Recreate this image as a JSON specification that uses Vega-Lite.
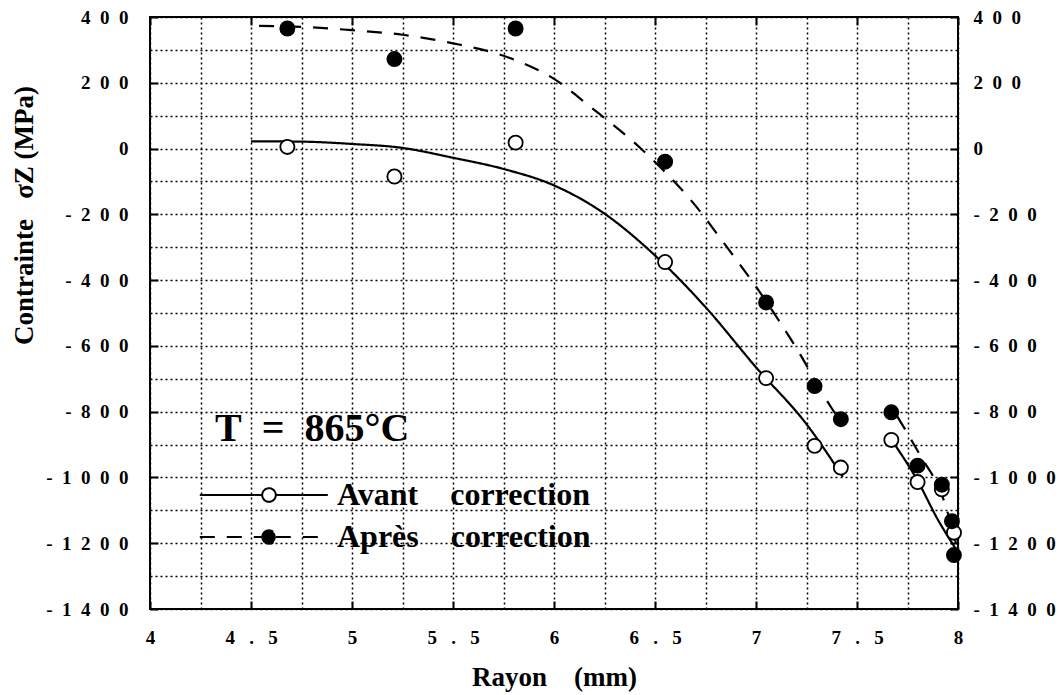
{
  "$schema": "https://vega.github.io/schema/vega-lite/v6.json",
  "width": 808,
  "height": 592,
  "autosize": {"type": "none"},
  "padding": {"left": 150, "top": 17, "right": 103, "bottom": 86},
  "background": "white",
  "config": {
    "view": {"stroke": "black", "strokeWidth": 2},
    "axis": {
      "labelFont": "Liberation Serif",
      "labelFontSize": 19,
      "labelFontWeight": "bold",
      "labelColor": "black",
      "titleFont": "Liberation Serif",
      "titleFontSize": 27,
      "titleFontWeight": "bold",
      "titleColor": "black",
      "domain": false,
      "tickColor": "black",
      "tickWidth": 2,
      "gridColor": "black",
      "gridDash": [2, 3],
      "gridWidth": 1.5,
      "gridOpacity": 1,
      "labelFlush": false,
      "labelOverlap": false,
      "labelBound": false
    },
    "legend": {
      "orient": "none",
      "legendX": 65,
      "legendY": 392,
      "padding": 0,
      "titleFont": "Liberation Serif",
      "titleFontSize": 40,
      "titleFontWeight": "bold",
      "titleColor": "black",
      "titleLimit": 500,
      "titlePadding": 30,
      "symbolType": "M-3.9,0H3.9M5.6,0H12.1M3.9,0A0.85,0.85,0,1,1,5.6,0A0.85,0.85,0,1,1,3.9,0Z",
      "symbolSize": 256,
      "symbolStrokeColor": "black",
      "symbolStrokeWidth": 2,
      "labelFont": "Liberation Serif",
      "labelFontSize": 32,
      "labelFontWeight": "bold",
      "labelColor": "black",
      "labelLimit": 500,
      "labelOffset": 90,
      "rowPadding": 10
    }
  },
  "datasets": {
    "curves": [
      {"series": "Avant correction", "seg": "a1", "r": 4.5, "s": 22},
      {"series": "Avant correction", "seg": "a1", "r": 4.75, "s": 21},
      {"series": "Avant correction", "seg": "a1", "r": 5.0, "s": 14},
      {"series": "Avant correction", "seg": "a1", "r": 5.25, "s": 2},
      {"series": "Avant correction", "seg": "a1", "r": 5.5, "s": -28},
      {"series": "Avant correction", "seg": "a1", "r": 5.75, "s": -62},
      {"series": "Avant correction", "seg": "a1", "r": 6.0, "s": -112},
      {"series": "Avant correction", "seg": "a1", "r": 6.25, "s": -198},
      {"series": "Avant correction", "seg": "a1", "r": 6.5, "s": -325},
      {"series": "Avant correction", "seg": "a1", "r": 6.75, "s": -482},
      {"series": "Avant correction", "seg": "a1", "r": 7.0, "s": -665},
      {"series": "Avant correction", "seg": "a1", "r": 7.25, "s": -838},
      {"series": "Avant correction", "seg": "a1", "r": 7.43, "s": -998},
      {"series": "Avant correction", "seg": "a2", "r": 7.67, "s": -885},
      {"series": "Avant correction", "seg": "a2", "r": 7.8, "s": -1010},
      {"series": "Avant correction", "seg": "a2", "r": 7.9, "s": -1128},
      {"series": "Avant correction", "seg": "a2", "r": 7.99, "s": -1218},
      {"series": "Après correction", "seg": "b1", "r": 4.54, "s": 373},
      {"series": "Après correction", "seg": "b1", "r": 4.75, "s": 370},
      {"series": "Après correction", "seg": "b1", "r": 5.0, "s": 360},
      {"series": "Après correction", "seg": "b1", "r": 5.25, "s": 346},
      {"series": "Après correction", "seg": "b1", "r": 5.5, "s": 320},
      {"series": "Après correction", "seg": "b1", "r": 5.72, "s": 288},
      {"series": "Après correction", "seg": "b1", "r": 5.93, "s": 236},
      {"series": "Après correction", "seg": "b1", "r": 6.0, "s": 212},
      {"series": "Après correction", "seg": "b1", "r": 6.18, "s": 127},
      {"series": "Après correction", "seg": "b1", "r": 6.43, "s": 0},
      {"series": "Après correction", "seg": "b1", "r": 6.69, "s": -166},
      {"series": "Après correction", "seg": "b1", "r": 6.86, "s": -303},
      {"series": "Après correction", "seg": "b1", "r": 7.0, "s": -420},
      {"series": "Après correction", "seg": "b1", "r": 7.2, "s": -607},
      {"series": "Après correction", "seg": "b1", "r": 7.37, "s": -785},
      {"series": "Après correction", "seg": "b1", "r": 7.43, "s": -840},
      {"series": "Après correction", "seg": "b2", "r": 7.7, "s": -815},
      {"series": "Après correction", "seg": "b2", "r": 7.81, "s": -930},
      {"series": "Après correction", "seg": "b2", "r": 7.93, "s": -1070},
      {"series": "Après correction", "seg": "b2", "r": 7.99, "s": -1200}
    ],
    "points": [
      {"series": "Avant correction", "r": 4.68, "s": 5},
      {"series": "Avant correction", "r": 5.21, "s": -85},
      {"series": "Avant correction", "r": 5.81, "s": 18},
      {"series": "Avant correction", "r": 6.55, "s": -345},
      {"series": "Avant correction", "r": 7.05, "s": -698},
      {"series": "Avant correction", "r": 7.29, "s": -904},
      {"series": "Avant correction", "r": 7.42, "s": -970},
      {"series": "Avant correction", "r": 7.67, "s": -886},
      {"series": "Avant correction", "r": 7.8, "s": -1014},
      {"series": "Avant correction", "r": 7.92, "s": -1036},
      {"series": "Avant correction", "r": 7.98, "s": -1168},
      {"series": "Après correction", "r": 4.68, "s": 365},
      {"series": "Après correction", "r": 5.21, "s": 272},
      {"series": "Après correction", "r": 5.81, "s": 365},
      {"series": "Après correction", "r": 6.55, "s": -40},
      {"series": "Après correction", "r": 7.05, "s": -468},
      {"series": "Après correction", "r": 7.29, "s": -722},
      {"series": "Après correction", "r": 7.42, "s": -823},
      {"series": "Après correction", "r": 7.67, "s": -802},
      {"series": "Après correction", "r": 7.8, "s": -964},
      {"series": "Après correction", "r": 7.92, "s": -1022},
      {"series": "Après correction", "r": 7.97, "s": -1133},
      {"series": "Après correction", "r": 7.98, "s": -1236}
    ]
  },
  "layer": [
    {
      "data": {"name": "curves"},
      "mark": {"type": "line", "interpolate": "monotone", "color": "black", "strokeWidth": 2.2},
      "encoding": {
        "x": {
          "field": "r", "type": "quantitative",
          "scale": {"domain": [4, 8], "nice": false, "zero": false},
          "axis": {
            "orient": "bottom",
            "title": "Rayon\u00a0\u00a0\u00a0\u00a0(mm)",
            "values": [4, 4.25, 4.5, 4.75, 5, 5.25, 5.5, 5.75, 6, 6.25, 6.5, 6.75, 7, 7.25, 7.5, 7.75, 8],
            "grid": true,
            "tickSize": -8,
            "tickOpacity": {"condition": {"test": "datum.value % 0.5 === 0", "value": 1}, "value": 0},
            "labelPadding": 27,
            "labelExpr": "datum.value % 0.5 === 0 ? join(split(toString(datum.value), ''), '\u2002\u00a0') : ''",
            "titleBaseline": "alphabetic",
            "titleY": 76
          }
        },
        "y": {
          "field": "s", "type": "quantitative",
          "scale": {"domain": [-1400, 400], "nice": false, "zero": false},
          "axis": {
            "orient": "left",
            "title": "Contrainte\u00a0\u00a0\u00a0σZ (MPa)",
            "values": [-1400, -1300, -1200, -1100, -1000, -900, -800, -700, -600, -500, -400, -300, -200, -100, 0, 100, 200, 300, 400],
            "grid": true,
            "tickSize": -8,
            "tickOpacity": {"condition": {"test": "datum.value % 200 === 0", "value": 1}, "value": 0},
            "labelPadding": 30,
            "labelExpr": "datum.value % 200 === 0 ? join(split(toString(datum.value), ''), '\u00a0\u00a0') : ''",
            "titleX": -112,
            "titleY": 198
          }
        },
        "detail": {"field": "seg"},
        "strokeDash": {
          "field": "series", "type": "nominal",
          "scale": {"domain": ["Avant correction", "Après correction"], "range": [[1, 0], [15, 12]]},
          "legend": {
            "title": "T\u00a0\u00a0=\u00a0\u00a0865°C",
            "labelExpr": "replace(datum.label, ' ', '\u00a0\u00a0\u00a0\u00a0')"
          }
        }
      }
    },
    {
      "mark": {"type": "rule", "color": "black", "strokeWidth": 3.5},
      "encoding": {"y": {"datum": 0, "type": "quantitative", "axis": null}}
    },
    {
      "data": {"name": "points"},
      "mark": {"type": "point", "shape": "circle", "filled": true, "stroke": "black", "strokeWidth": 1.8, "opacity": 1, "size": 200},
      "encoding": {
        "x": {
          "field": "r", "type": "quantitative",
          "scale": {"domain": [4, 8], "nice": false, "zero": false},
          "axis": {
            "orient": "top",
            "title": null,
            "values": [4, 4.5, 5, 5.5, 6, 6.5, 7, 7.5, 8],
            "grid": false,
            "labels": false,
            "tickSize": -8
          }
        },
        "y": {
          "field": "s", "type": "quantitative",
          "scale": {"domain": [-1400, 400], "nice": false, "zero": false},
          "axis": {
            "orient": "right",
            "title": null,
            "values": [-1400, -1200, -1000, -800, -600, -400, -200, 0, 200, 400],
            "grid": false,
            "tickSize": -8,
            "labelPadding": 23,
            "labelExpr": "join(split(toString(datum.value), ''), '\u00a0\u00a0')"
          }
        },
        "fill": {
          "field": "series", "type": "nominal",
          "scale": {"domain": ["Avant correction", "Après correction"], "range": ["white", "black"]},
          "legend": {
            "title": "T\u00a0\u00a0=\u00a0\u00a0865°C",
            "labelExpr": "replace(datum.label, ' ', '\u00a0\u00a0\u00a0\u00a0')"
          }
        }
      }
    }
  ]
}
